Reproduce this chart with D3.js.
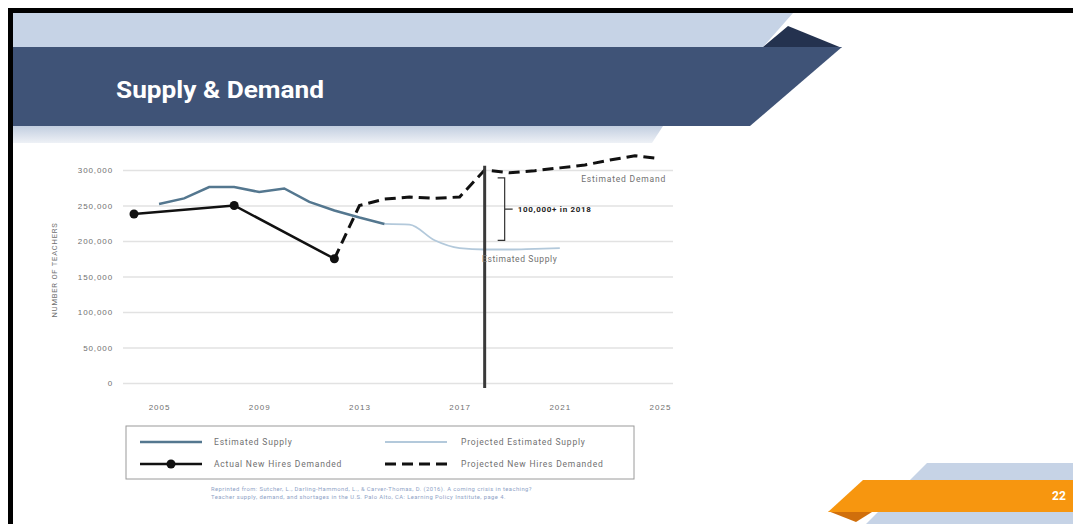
<!DOCTYPE html>
<html>
<head>
<meta charset="utf-8">
<script src="https://cdn.jsdelivr.net/npm/d3@7"></script>
<style>
  body { margin: 0; background: #fff; }
  svg { display: block; font-family: Roboto, "Liberation Sans", sans-serif; }
</style>
</head>
<body>
<div id="slide"></div>
<script>
// Chart data
const supplyYears = [2005, 2006, 2007, 2008, 2009, 2010, 2011, 2012, 2013, 2014];
const supplyValues = [252000, 260000, 276000, 276000, 269000, 274000, 255000, 243000, 233000, 224000];

const projSupplyYears = [2014, 2015, 2016, 2017, 2018, 2019, 2020, 2021];
const projSupplyValues = [224000, 223000, 201000, 190000, 188000, 188000, 189000, 190000];

const hiresYears = [2004, 2008, 2012];
const hiresValues = [238000, 250000, 175000];

const projHiresYears = [2012, 2013, 2014, 2015, 2016, 2017, 2018, 2019, 2020, 2021, 2022, 2023, 2024, 2025];
const projHiresValues = [175000, 250000, 259000, 262000, 260000, 262000, 300000, 296000, 299000, 303000, 307000, 314000, 320000, 316000];

const yTicks = [0, 50000, 100000, 150000, 200000, 250000, 300000];
const xTicks = [2005, 2009, 2013, 2017, 2021, 2025];

const gapYear = 2018;
const gapTop = 289000;
const gapBottom = 201000;

const legendItems = [
    { label: "Estimated Supply", type: "supply" },
    { label: "Projected Estimated Supply", type: "projSupply" },
    { label: "Actual New Hires Demanded", type: "hires" },
    { label: "Projected New Hires Demanded", type: "projHires" },
];

const width = 1073;
const height = 524;
const textGray = "#707070";

const svg = d3
    .select("#slide")
    .append("svg")
    .attr("width", width)
    .attr("height", height);

// ---- slide decoration ----
const defs = svg.append("defs");
const fade = defs.append("linearGradient")
    .attr("id", "fade")
    .attr("x1", 0).attr("y1", 0).attr("x2", 0).attr("y2", 1);
fade.append("stop").attr("offset", "0%").attr("stop-color", "#c2cee0");
fade.append("stop").attr("offset", "100%").attr("stop-color", "#eef1f6");

svg.append("polygon")
    .attr("points", "13,13 793,13 763,47 13,47")
    .attr("fill", "#c6d3e6");
svg.append("polygon")
    .attr("points", "13,126 663,126 652,143 13,143")
    .attr("fill", "url(#fade)");
svg.append("polygon")
    .attr("points", "763,47 788,26 842,48")
    .attr("fill", "#24324f");
svg.append("polygon")
    .attr("points", "13,47 842,47 750,126 13,126")
    .attr("fill", "#3f5377");

svg.append("text")
    .attr("x", 116)
    .attr("y", 98)
    .attr("fill", "#fff")
    .attr("textLength", 208)
    .attr("lengthAdjust", "spacingAndGlyphs")
    .style("font-size", "24px")
    .style("font-weight", "bold")
    .text("Supply & Demand");

// bottom right tab
svg.append("polygon")
    .attr("points", "927,463 1073,463 1073,524 866,524")
    .attr("fill", "#c6d3e6");
svg.append("polygon")
    .attr("points", "828,511 872,512 856,522")
    .attr("fill", "#d06f0c");
svg.append("polygon")
    .attr("points", "863,480 1073,480 1073,512 828,512")
    .attr("fill", "#f7960f");
svg.append("text")
    .attr("x", 1059)
    .attr("y", 500)
    .attr("text-anchor", "middle")
    .attr("fill", "#fff")
    .style("font-size", "12px")
    .style("font-weight", "bold")
    .text("22");

// black frame
svg.append("line").attr("x1", 8).attr("x2", 1073).attr("y1", 10.5).attr("y2", 10.5)
    .attr("stroke", "#000").attr("stroke-width", 5);
svg.append("line").attr("x1", 10.5).attr("x2", 10.5).attr("y1", 8).attr("y2", 524)
    .attr("stroke", "#000").attr("stroke-width", 5);

// ---- chart ----
const x = d3.scaleLinear().domain([2004, 2025]).range([134, 660]);
const y = d3.scaleLinear().domain([0, 300000]).range([383, 170]);
const gridLeft = 123;
const gridRight = 673;

const yAxis = svg.append("g")
    .attr("transform", `translate(${gridLeft},0)`)
    .call(d3.axisLeft(y)
        .tickValues(yTicks)
        .tickSize(-(gridRight - gridLeft))
        .tickPadding(10)
        .tickFormat(d3.format(",")));
yAxis.select(".domain").remove();
yAxis.selectAll("line").attr("stroke", "#e2e2e2").attr("stroke-width", 1.5);
yAxis.selectAll("text")
    .attr("fill", textGray)
    .style("font-size", "8px")
    .style("letter-spacing", "0.9px");

const xAxis = svg.append("g")
    .attr("transform", "translate(0,398)")
    .call(d3.axisBottom(x)
        .tickValues(xTicks)
        .tickSize(0)
        .tickPadding(6)
        .tickFormat(d3.format("d")));
xAxis.select(".domain").remove();
xAxis.selectAll("text")
    .attr("fill", textGray)
    .style("font-size", "8px")
    .style("letter-spacing", "1px");

svg.append("text")
    .attr("transform", "translate(57,270) rotate(-90)")
    .attr("text-anchor", "middle")
    .attr("fill", textGray)
    .style("font-size", "7.5px")
    .style("letter-spacing", "0.8px")
    .text("NUMBER OF TEACHERS");

const line = d3.line()
    .x((d) => x(d[0]))
    .y((d) => y(d[1]));
const smooth = d3.line()
    .curve(d3.curveMonotoneX)
    .x((d) => x(d[0]))
    .y((d) => y(d[1]));

const supply = d3.zip(supplyYears, supplyValues);
const projSupply = d3.zip(projSupplyYears, projSupplyValues);
const hires = d3.zip(hiresYears, hiresValues);
const projHires = d3.zip(projHiresYears, projHiresValues);

svg.append("path")
    .datum(projSupply)
    .attr("d", smooth)
    .attr("fill", "none")
    .attr("stroke", "#b3c9db")
    .attr("stroke-width", 1.8);

svg.append("path")
    .datum(supply)
    .attr("d", line)
    .attr("fill", "none")
    .attr("stroke", "#54778f")
    .attr("stroke-width", 2.5);

svg.append("path")
    .datum(projHires)
    .attr("d", line)
    .attr("fill", "none")
    .attr("stroke", "#111")
    .attr("stroke-width", 3)
    .attr("stroke-dasharray", "11,6");

svg.append("path")
    .datum(hires)
    .attr("d", line)
    .attr("fill", "none")
    .attr("stroke", "#111")
    .attr("stroke-width", 2.5);

svg.selectAll(".marker")
    .data(hires)
    .enter()
    .append("circle")
    .attr("class", "marker")
    .attr("cx", (d) => x(d[0]))
    .attr("cy", (d) => y(d[1]))
    .attr("r", 4.5)
    .attr("fill", "#111");

// 2018 divider
svg.append("line")
    .attr("x1", x(gapYear)).attr("x2", x(gapYear))
    .attr("y1", y(306000)).attr("y2", y(0) + 5)
    .attr("stroke", "#3a3a3a")
    .attr("stroke-width", 3);

// bracket showing the gap
const bx = x(gapYear) + 20;
const bMid = (y(gapTop) + y(gapBottom)) / 2;
svg.append("path")
    .attr("d", `M${bx - 7},${y(gapTop)} H${bx} V${y(gapBottom)} H${bx - 7}
                M${bx},${bMid} H${bx + 8}`)
    .attr("fill", "none")
    .attr("stroke", "#333")
    .attr("stroke-width", 1.2);

svg.append("text")
    .attr("x", bx + 13)
    .attr("y", bMid + 3)
    .attr("fill", "#222")
    .style("font-size", "8px")
    .style("font-weight", "bold")
    .style("letter-spacing", "0.7px")
    .text("100,000+ in 2018");

svg.append("text")
    .attr("x", x(2025) + 6)
    .attr("y", 182)
    .attr("text-anchor", "end")
    .attr("fill", textGray)
    .style("font-size", "8.5px")
    .style("letter-spacing", "0.8px")
    .text("Estimated Demand");

svg.append("text")
    .attr("x", 482)
    .attr("y", 262)
    .attr("fill", textGray)
    .style("font-size", "8.5px")
    .style("letter-spacing", "0.6px")
    .text("Estimated Supply");

// ---- legend ----
const legend = svg.append("g");
legend.append("rect")
    .attr("x", 126).attr("y", 426)
    .attr("width", 508).attr("height", 53)
    .attr("fill", "#fff")
    .attr("stroke", "#9a9a9a")
    .attr("stroke-width", 1);

const legendPos = [
    { lx: 140, tx: 214, y: 442 },
    { lx: 385, tx: 461, y: 442 },
    { lx: 140, tx: 214, y: 464 },
    { lx: 385, tx: 461, y: 464 },
];

legendItems.forEach((item, i) => {
    const p = legendPos[i];
    const g = legend.append("g");
    const l = g.append("line")
        .attr("x1", p.lx).attr("x2", p.lx + 62)
        .attr("y1", p.y).attr("y2", p.y)
        .attr("fill", "none");
    if (item.type === "supply") {
        l.attr("stroke", "#54778f").attr("stroke-width", 2.5);
    } else if (item.type === "projSupply") {
        l.attr("stroke", "#b3c9db").attr("stroke-width", 1.8);
    } else if (item.type === "hires") {
        l.attr("stroke", "#111").attr("stroke-width", 2.5);
        g.append("circle").attr("cx", p.lx + 31).attr("cy", p.y).attr("r", 4.5).attr("fill", "#111");
    } else {
        l.attr("stroke", "#111").attr("stroke-width", 3).attr("stroke-dasharray", "11,6");
    }
    g.append("text")
        .attr("x", p.tx)
        .attr("y", p.y + 3)
        .attr("fill", textGray)
        .style("font-size", "8.5px")
        .style("letter-spacing", "0.8px")
        .text(item.label);
});

// source note
const source = svg.append("text")
    .attr("fill", "#8ea2c6")
    .style("font-size", "5.8px")
    .style("letter-spacing", "0.45px");
source.append("tspan")
    .attr("x", 211).attr("y", 491)
    .text("Reprinted from: Sutcher, L., Darling-Hammond, L., & Carver-Thomas, D. (2016). A coming crisis in teaching?");
source.append("tspan")
    .attr("x", 211).attr("y", 499)
    .text("Teacher supply, demand, and shortages in the U.S. Palo Alto, CA: Learning Policy Institute, page 4.");
</script>
</body>
</html>
